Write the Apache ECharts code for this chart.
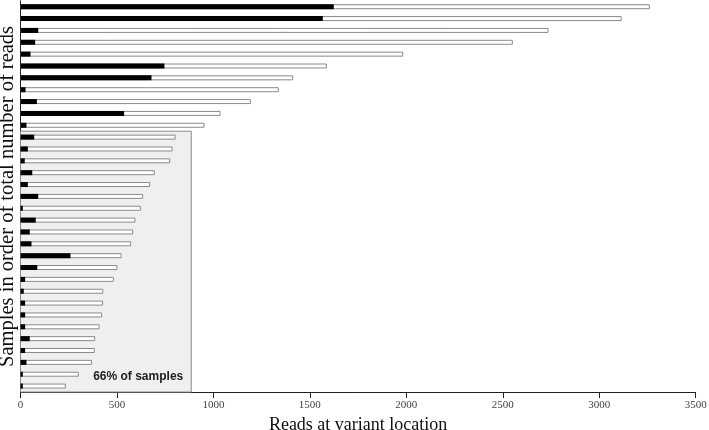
<!DOCTYPE html>
<html>
<head>
<meta charset="utf-8">
<script src="https://cdn.jsdelivr.net/npm/echarts@6/dist/echarts.min.js"></script>
<style>
  html, body { margin: 0; padding: 0; background: #fff; }
  #chart { width: 709px; height: 430px; }
</style>
</head>
<body>
<div id="chart"></div>
<script>
// 每个样本的总读数 / 变异位点读数（按总读数从大到小）
const samples = [];
const totalReads = [3262, 3116, 2737, 2552, 1984, 1588, 1414, 1339, 1194, 1037, 954,
  804, 788, 776, 696, 672, 636, 624, 596, 584, 574, 524, 502, 484, 429, 428, 423,
  410, 387, 385, 371, 302, 235];
const variantReads = [1624, 1567, 92, 76, 52, 746, 679, 26, 85, 537, 31,
  71, 38, 22, 61, 38, 92, 12, 79, 48, 57, 259, 87, 24, 17, 24, 24,
  24, 48, 24, 31, 12, 12];
for (let i = 0; i < totalReads.length; i++) samples.push('S' + (i + 1));

// 阴影框：覆盖后 22 个样本
const shadeFirst = 11;
const shadeLast = 32;
const shadeReads = 885;
const shadeLabel = '66% of samples';

const myChart = echarts.init(document.getElementById('chart'));

const option = {
  animation: false,
  grid: { left: 20.5, right: 13.3, top: 0.8, bottom: 38, outerBoundsMode: 'none', containLabel: false },
  xAxis: {
    type: 'value',
    min: 0,
    max: 3500,
    interval: 500,
    name: 'Reads at variant location',
    nameLocation: 'middle',
    nameGap: 21,
    nameTextStyle: { fontFamily: 'Liberation Serif', fontSize: 18, color: '#111' },
    axisLine: { show: true, lineStyle: { color: '#222', width: 1 } },
    axisTick: { show: true, length: 6, lineStyle: { color: '#222' } },
    axisLabel: {
      fontFamily: 'Liberation Serif', fontSize: 11, color: '#444', margin: 8,
      formatter: function (v) { return String(v); }
    },
    splitLine: { show: false }
  },
  yAxis: {
    type: 'category',
    data: samples,
    inverse: true,
    name: 'Samples in order of total number of reads',
    nameLocation: 'middle',
    nameGap: 2,
    nameTextStyle: { fontFamily: 'Liberation Serif', fontSize: 20.5, color: '#111' },
    axisLine: { show: true, lineStyle: { color: '#222', width: 1 } },
    axisTick: { show: false },
    axisLabel: { show: false }
  },
  series: [
    {
      type: 'custom',
      z: 1,
      data: [[shadeReads, shadeFirst, shadeLast]],
      renderItem: function (params, api) {
        const band = api.size([0, 1])[1];
        const p0 = api.coord([0, api.value(1)]);
        const p1 = api.coord([api.value(0), api.value(2)]);
        const top = p0[1] - band / 2;
        const bottom = p1[1] + band / 2;
        return {
          type: 'group',
          children: [
            {
              type: 'rect',
              shape: { x: p0[0], y: top, width: p1[0] - p0[0], height: bottom - top },
              style: { fill: '#efefef', stroke: '#8a8a8a', lineWidth: 1 }
            },
            {
              type: 'text',
              style: {
                x: p1[0] - 8, y: bottom - 15,
                text: shadeLabel,
                align: 'right', verticalAlign: 'middle',
                font: 'bold 12px "Liberation Sans"',
                fill: '#222'
              }
            }
          ]
        };
      }
    },
    {
      name: 'Total',
      type: 'bar',
      z: 2,
      data: totalReads,
      barWidth: 5,
      itemStyle: { color: '#fff', borderColor: '#8a8a8a', borderWidth: 1 }
    },
    {
      name: 'Variant',
      type: 'bar',
      z: 3,
      data: variantReads,
      barWidth: 5,
      barGap: '-100%',
      itemStyle: { color: '#000' }
    }
  ]
};

myChart.setOption(option);
</script>
</body>
</html>
